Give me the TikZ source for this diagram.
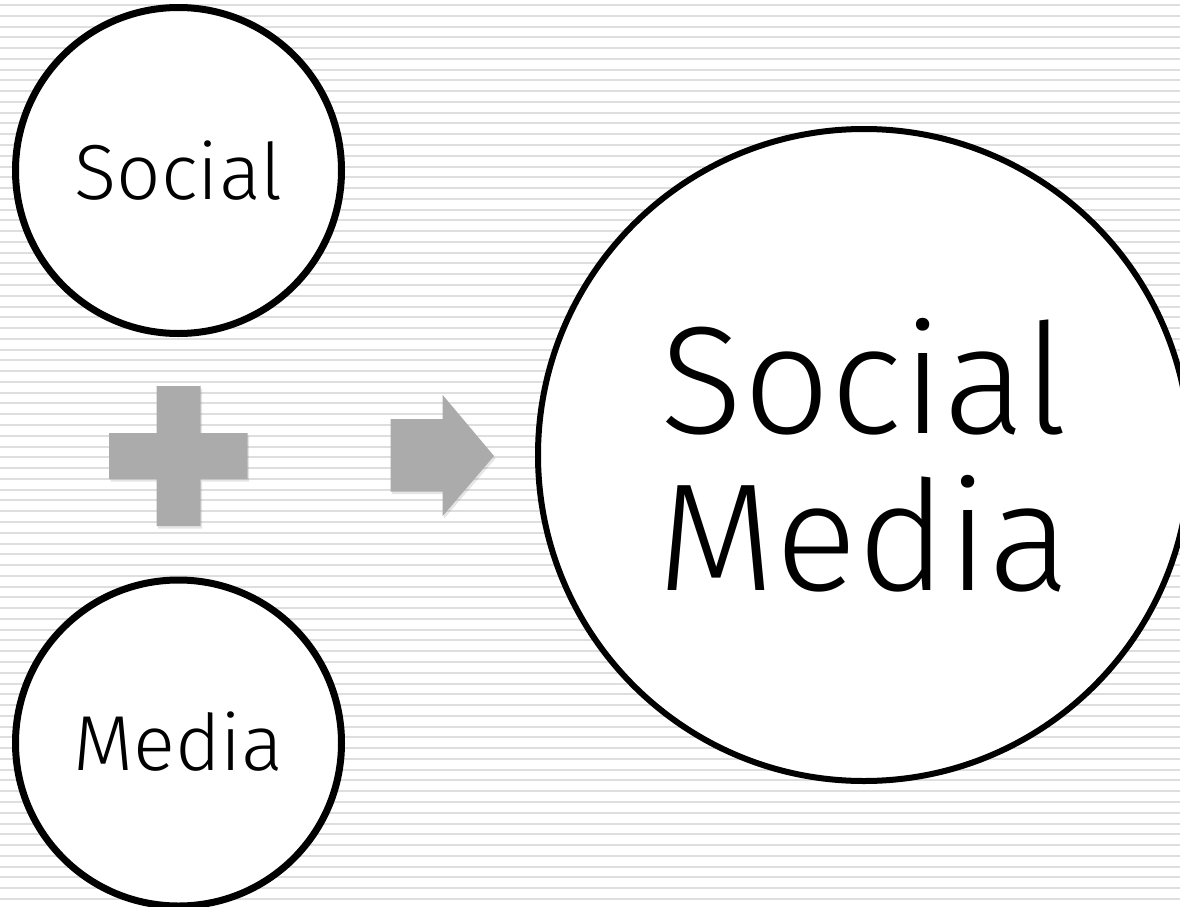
\documentclass[tikz,border=0pt]{standalone}
\usepackage{fontspec}
\setmainfont{Fira Sans Light}
\usetikzlibrary{shadows}
\tikzset{
  stripe/.style={draw=black!13, line width=2pt},
  bubble/.style={circle, draw=black, fill=white, line width=7pt, inner sep=0pt,
    drop shadow={opacity=0.25, shadow xshift=1.5pt, shadow yshift=-2.5pt}},
  smalltext/.style={font=\fontsize{78}{90}\selectfont},
  bigtext/.style={font=\fontsize{153}{157}\selectfont, align=center},
  glyph/.style={fill=black!33, draw=none,
    drop shadow={opacity=0.2, shadow xshift=1.5pt, shadow yshift=-2.5pt}}
}
\begin{document}
\begin{tikzpicture}[x=1pt, y=-1pt]
\useasboundingbox (0,0) rectangle (1180,907);
\clip (0,0) rectangle (1180,907);
\fill[white] (0,0) rectangle (1180,907);
\foreach \i in {0,...,84} \draw[stripe] (0,{5+10.77*\i}) -- (1180,{5+10.77*\i});
% plus
\path[glyph] (156.7,386) -- (200.7,386) -- (200.7,433) -- (247.7,433) -- (247.7,479)
  -- (200.7,479) -- (200.7,526) -- (156.7,526) -- (156.7,479) -- (109,479)
  -- (109,433) -- (156.7,433) -- cycle;
% arrow
\path[glyph] (390.7,419) -- (442.7,419) -- (442.7,395) -- (494,456) -- (442.7,516)
  -- (442.7,491.7) -- (390.7,491.7) -- cycle;
\node[bubble, minimum size=326pt, smalltext] (social) at (178.5,170.5) {Social};
\node[bubble, minimum size=326pt, smalltext] (media) at (178.5,743) {\raisebox{4pt}{Media}};
\node[bubble, minimum size=652pt, line width=6pt, bigtext] (socialmedia) at (864,455) {Social\\Media};
\end{tikzpicture}
\end{document}
